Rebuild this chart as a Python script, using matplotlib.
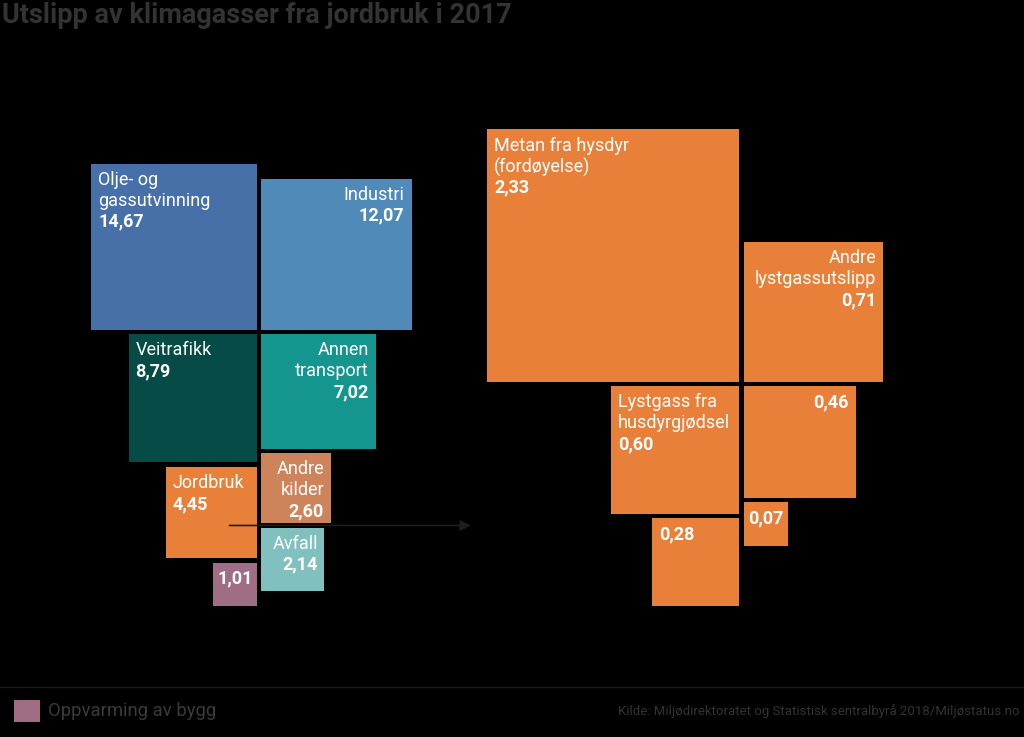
import numpy as np
import matplotlib.pyplot as plt

plt.rcParams['font.family'] = ['Roboto', 'DejaVu Sans']

# utslipp per sektor (mill. tonn CO2-ekv.), to kolonner
venstre_navn = ["Olje- og\ngassutvinning", "Veitrafikk", "Jordbruk", ""]
venstre_verdi = [14.67, 8.79, 4.45, 1.01]
venstre_farge = ["#4870a8", "#064b45", "#e8803a", "#a06e84"]

hoyre_navn = ["Industri", "Annen\ntransport", "Andre\nkilder", "Avfall"]
hoyre_verdi = [12.07, 7.02, 2.60, 2.14]
hoyre_farge = ["#4f8ab9", "#14968f", "#cd845a", "#80c0be"]

# jordbruk fordelt
jb_venstre_navn = ["Metan fra hysdyr\n(fordøyelse)", "Lystgass fra\nhusdyrgjødsel", ""]
jb_venstre_verdi = [2.33, 0.60, 0.28]
jb_hoyre_navn = ["Andre\nlystgassutslipp", "", ""]
jb_hoyre_verdi = [0.71, 0.46, 0.07]
jb_farge = "#e8803a"

W, H = 1024, 737
fig = plt.figure(figsize=(W / 100, H / 100), dpi=100, facecolor="black")
ax = fig.add_axes([0, 0, 1, 1])
ax.set_xlim(0, W)
ax.set_ylim(H, 0)
ax.axis("off")
ax.set_facecolor("black")

GAP = 4.5
LINE = 21


def fmt(v):
    return f"{v:.2f}".replace(".", ",")


def tegn_kolonne(navn, verdier, farger, xkant, ytopp, skala, side):
    """side='v': hoeyrejustert mot xkant, side='h': venstrejustert"""
    y = ytopp
    boxes = []
    for i, (n, v) in enumerate(zip(navn, verdier)):
        s = skala * np.sqrt(v)
        if i == 0:
            y = ytopp - s
        x0 = xkant - s if side == "v" else xkant
        ax.add_patch(plt.Rectangle((x0, y), s, s, color=farger[i], lw=0))
        pad = min(7, 0.1 * s)
        if side == "v":
            tx, ha = x0 + pad, "left"
        else:
            tx, ha = x0 + s - pad, "right"
        linjer = [l for l in n.split("\n") if l]
        ty = y + 7
        for l in linjer:
            ax.text(tx, ty, l, color="white", fontsize=13, ha=ha, va="top")
            ty += LINE
        ax.text(tx, ty, fmt(v), color="white", fontsize=13, ha=ha, va="top",
                fontweight="bold")
        boxes.append((x0, y, s))
        y += s + GAP
    return boxes


k1 = 43.34
vbox = tegn_kolonne(venstre_navn, venstre_verdi, venstre_farge, 257, 329.5, k1, "v")
hbox = tegn_kolonne(hoyre_navn, hoyre_verdi, hoyre_farge, 261, 329.5, k1, "h")

k2 = 165.1
jv = tegn_kolonne(jb_venstre_navn, jb_venstre_verdi, [jb_farge] * 3, 739, 381.5, k2, "v")
jh = tegn_kolonne(jb_hoyre_navn, jb_hoyre_verdi, [jb_farge] * 3, 744, 381.5, k2, "h")

# pil fra jordbruk til fordelingen
ax_x0, ax_y = vbox[2][0] + 64, hbox[2][1] + hbox[2][2] + GAP / 2
ax.annotate("", xy=(jv[0][0] - 16, ax_y), xytext=(ax_x0, ax_y),
            arrowprops=dict(arrowstyle="-|>", color="#1e1e1e", lw=1.2,
                            mutation_scale=16, shrinkA=0, shrinkB=0))

# tittel
ax.text(2, 2, "Utslipp av klimagasser fra jordbruk i 2017", color="#333333",
        fontsize=19.5, fontweight="bold", ha="left", va="top")

# bunn
ax.plot([0, W], [687, 687], color="#1a1a1a", lw=1)
ax.add_patch(plt.Rectangle((14, 700), 26, 22, color=venstre_farge[3], lw=0))
ax.text(48, 711, "Oppvarming av bygg", color="#3a3a3a", fontsize=13.3,
        ha="left", va="center")
ax.text(1020, 711, "Kilde: Miljødirektoratet og Statistisk sentralbyrå 2018/Miljøstatus.no",
        color="#333333", fontsize=9.5, ha="right", va="center")

fig.savefig("out.png", dpi=100, facecolor="black")
